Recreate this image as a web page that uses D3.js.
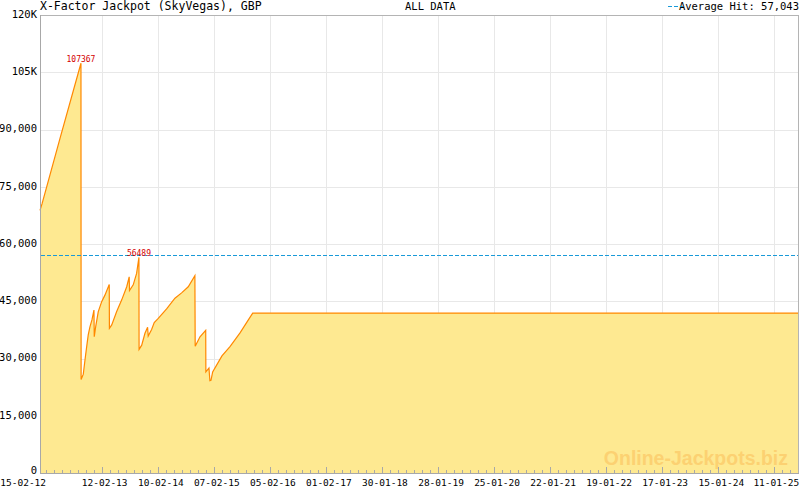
<!DOCTYPE html>
<html>
<head>
<meta charset="utf-8">
<script src="https://cdn.jsdelivr.net/npm/d3@7"></script>
<style>
  html, body { margin: 0; padding: 0; background: #fff; }
  svg { display: block; }
  text { font-family: "DejaVu Sans Mono", monospace; }
</style>
</head>
<body>
<svg id="chart" width="800" height="490"></svg>
<script>
// ---------- data ----------
const title = "X-Factor Jackpot (SkyVegas), GBP";
const subtitle = "ALL DATA";
const legendLabel = "Average Hit: 57,043";
const averageHit = 57043;
const watermark = "Online-Jackpots.biz";

const domainDates = ["2012-01-10", "2025-06-20"];

const dates = [
  "2012-01-10","2012-01-23","2012-05-18","2012-10-01","2012-10-02",
  "2012-10-16","2012-10-27","2012-11-07","2012-11-17","2012-11-28",
  "2012-12-11","2012-12-24","2012-12-26","2013-01-04","2013-01-21",
  "2013-02-12","2013-03-05","2013-04-02","2013-04-03","2013-04-18",
  "2013-05-20","2013-06-21","2013-07-24","2013-08-09","2013-08-11",
  "2013-09-04","2013-09-26","2013-10-11","2013-10-12","2013-10-29",
  "2013-11-19","2013-12-06","2013-12-10","2014-01-01","2014-01-18",
  "2014-02-13","2014-04-08","2014-06-01","2014-07-14","2014-08-26",
  "2014-10-08","2014-10-10","2014-11-10","2014-12-17","2014-12-18",
  "2015-01-07","2015-01-13","2015-01-20","2015-01-31","2015-04-01",
  "2015-05-23","2015-07-27","2015-09-25","2015-10-17","2025-06-20"
];
const values = [
  68800, 70500, 87600, 107367, 24500,
  25900, 29600, 33100, 36200, 38300,
  40100, 42700, 35700, 38300, 42300,
  44900, 46600, 49400, 37900, 38800,
  42300, 45300, 48800, 51400, 47800,
  49300, 52300, 56489, 32400, 33500,
  36600, 38200, 35900, 37600, 39400,
  40500, 43000, 45800, 47200, 48800,
  51700, 33200, 35700, 37400, 26500,
  27500, 24200, 24300, 26500, 30700,
  33100, 36700, 40500, 41900, 41900
];

const peakDates = ["2012-10-01", "2013-10-11"];
const peakValues = [107367, 56489];

const xTickLabels = ["15-02-12","12-02-13","10-02-14","07-02-15","05-02-16","01-02-17",
  "30-01-18","28-01-19","25-01-20","22-01-21","19-01-22","17-01-23","15-01-24","11-01-25"];
const yTickValues = [0, 15000, 30000, 45000, 60000, 75000, 90000, 105000, 120000];
const yTickLabels = ["0","15,000","30,000","45,000","60,000","75,000","90,000","105K","120K"];

// ---------- setup ----------
const W = 800, H = 490;
const mLeft = 40, mRight = 799, mTop = 15, mBottom = 473;
const parseISO = d3.timeParse("%Y-%m-%d");
const parseTick = d3.timeParse("%d-%m-%y");

const data = dates.map((d, i) => ({ date: parseISO(d), value: values[i] }));
const tickDates = xTickLabels.map(parseTick);
const majorDates = tickDates.slice(1);

const x = d3.scaleTime().domain(domainDates.map(parseISO)).range([mLeft, mRight]);
const y = d3.scaleLinear().domain([0, 120000]).range([mBottom, mTop]);
const px = v => Math.round(v) + 0.5;

const svg = d3.select("#chart");
svg.append("rect").attr("width", W).attr("height", H).attr("fill", "#fff");

// grid
const grid = svg.append("g").attr("shape-rendering", "crispEdges");
grid.selectAll("line.h").data(yTickValues.slice(1)).join("line")
  .attr("x1", mLeft).attr("x2", mRight)
  .attr("y1", d => px(y(d))).attr("y2", d => px(y(d)))
  .attr("stroke", "#e8e8e8");
grid.selectAll("line.v").data(majorDates).join("line")
  .attr("x1", d => px(x(d))).attr("x2", d => px(x(d)))
  .attr("y1", mTop).attr("y2", mBottom)
  .attr("stroke", "#e8e8e8");

// area + line
const area = d3.area().x(d => x(d.date)).y0(y(0)).y1(d => y(d.value));
const line = d3.line().x(d => x(d.date)).y(d => y(d.value));
svg.append("path").datum(data).attr("d", area).attr("fill", "#fee991");

// watermark
svg.append("text").text(watermark)
  .attr("x", 788).attr("y", 465).attr("text-anchor", "end")
  .style("font-family", "'Liberation Sans', Arial, sans-serif")
  .style("font-weight", "bold").style("font-size", "19.5px")
  .attr("fill", "#fcd172");

svg.append("path").datum(data).attr("d", line)
  .attr("fill", "none").attr("stroke", "#ff8800").attr("stroke-width", 1.2);

// average line
svg.append("line")
  .attr("x1", mLeft + 1).attr("x2", mRight)
  .attr("y1", px(y(averageHit))).attr("y2", px(y(averageHit)))
  .attr("stroke", "#1a9ad8").attr("stroke-width", 1).attr("stroke-dasharray", "4,2")
  .attr("shape-rendering", "crispEdges");

// peak labels
svg.selectAll("text.peak").data(peakDates.map((d, i) => ({ date: parseISO(d), value: peakValues[i] })))
  .join("text").attr("class", "peak")
  .attr("x", d => x(d.date)).attr("y", d => y(d.value) - 1)
  .attr("text-anchor", "middle").style("font-size", "8px")
  .attr("fill", "#d40000").text(d => d.value);

// frame
svg.append("rect").attr("x", mLeft + 0.5).attr("y", mTop + 0.5)
  .attr("width", mRight - mLeft - 1).attr("height", mBottom - mTop)
  .attr("fill", "none").attr("stroke", "#b4b4b4").attr("shape-rendering", "crispEdges");

// y axis labels
const yAxis = d3.axisLeft(y).tickValues(yTickValues)
  .tickFormat((d, i) => yTickLabels[i]).tickSize(0).tickPadding(3);
const gy = svg.append("g").attr("transform", `translate(${mLeft},-1)`).call(yAxis);
gy.select(".domain").remove();
gy.selectAll("text").style("font-family", "'DejaVu Sans Mono', monospace")
  .style("font-size", "10.5px").attr("fill", "#000");
gy.selectAll("text").filter(d => d === 0).attr("dy", "0.1em");

// x axis: major + minor ticks inside the plot
const minor = [tickDates[0]];
for (let i = 0; i < tickDates.length; i++) {
  const a = tickDates[i];
  const b = i < tickDates.length - 1 ? tickDates[i + 1] : null;
  const step = b ? (b - a) / 7 : (tickDates[i] - tickDates[i - 1]) / 7;
  for (let k = 1; k < 7; k++) {
    const t = new Date(+a + step * k);
    if (x(t) < mRight - 1) minor.push(t);
  }
}
const gx = svg.append("g").attr("shape-rendering", "crispEdges");
gx.selectAll("line.min").data(minor).join("line")
  .attr("x1", d => px(x(d))).attr("x2", d => px(x(d)))
  .attr("y1", mBottom).attr("y2", mBottom - 3).attr("stroke", "#a8a8a8");
gx.selectAll("line.maj").data(majorDates).join("line")
  .attr("x1", d => px(x(d))).attr("x2", d => px(x(d)))
  .attr("y1", mBottom).attr("y2", mBottom - 6).attr("stroke", "#a8a8a8");
const xAxis = d3.axisBottom(x).tickValues(tickDates)
  .tickFormat(d3.timeFormat("%d-%m-%y")).tickSize(0).tickPadding(6);
const gxl = svg.append("g").attr("transform", `translate(0,${mBottom})`).call(xAxis);
gxl.select(".domain").remove();
gxl.selectAll("text").style("font-family", "'DejaVu Sans Mono', monospace")
  .style("font-size", "9.5px").attr("fill", "#000").attr("dx", 2.5);
gxl.selectAll("text").filter((d, i) => i === 0).attr("text-anchor", "end").attr("dx", 0);
gxl.selectAll("text").filter((d, i, n) => i === n.length - 1).attr("dx", 1.5);

// axis lines
svg.append("line").attr("x1", mLeft + 0.5).attr("x2", mLeft + 0.5).attr("y1", mTop).attr("y2", mBottom + 0.5)
  .attr("stroke", "#a8a8a8").attr("shape-rendering", "crispEdges");
svg.append("line").attr("x1", mLeft).attr("x2", mRight).attr("y1", mBottom + 0.5).attr("y2", mBottom + 0.5)
  .attr("stroke", "#a8a8a8").attr("shape-rendering", "crispEdges");

// titles
svg.append("text").text(title).attr("x", 40).attr("y", 10)
  .style("font-size", "11.5px").attr("fill", "#000");
svg.append("text").text(subtitle).attr("x", 405).attr("y", 10)
  .style("font-size", "10.5px").attr("fill", "#000");
svg.append("text").text(legendLabel).attr("x", 799).attr("y", 10).attr("text-anchor", "end")
  .style("font-size", "10.5px").attr("fill", "#000");
svg.append("line").attr("x1", 668).attr("x2", 683).attr("y1", 6.5).attr("y2", 6.5)
  .attr("stroke", "#1a9ad8").attr("stroke-dasharray", "4,2").attr("shape-rendering", "crispEdges");
</script>
</body>
</html>
